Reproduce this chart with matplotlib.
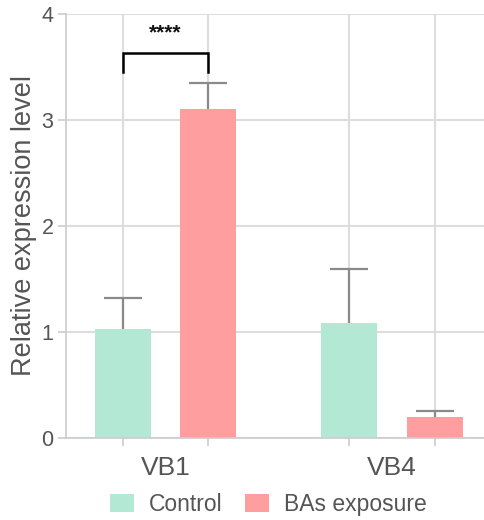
import matplotlib
matplotlib.use("Agg")
import matplotlib.pyplot as plt
import numpy as np

categories = ["VB1", "VB4"]
series_names = ["Control", "BAs exposure"]
control_vals = [1.03, 1.08]
control_err = [0.29, 0.51]
bas_vals = [3.10, 0.20]
bas_err = [0.25, 0.055]
y_ticks = [0, 1, 2, 3, 4]
sig_label = "****"

plt.rcParams['font.family'] = ['Liberation Sans', 'DejaVu Sans']

fig = plt.figure(figsize=(4.85, 5.2), dpi=100)
ax = fig.add_axes([0.136, 0.158, 0.864, 0.815])

x = np.arange(len(categories))
off = 0.189
w = 0.247
colors = ["#B3E8D4", "#FF9E9E"]
ecol = "#8a8a8a"

ax.bar(x - off, control_vals, w, color=colors[0], label=series_names[0], zorder=2)
ax.bar(x + off, bas_vals, w, color=colors[1], label=series_names[1], zorder=2)
for xs, vals, errs in [(x - off, control_vals, control_err), (x + off, bas_vals, bas_err)]:
    vals = np.array(vals); errs = np.array(errs)
    ax.errorbar(xs, vals, yerr=[np.zeros(len(vals)), errs], fmt='none',
                ecolor=ecol, elinewidth=1.6, capsize=0, zorder=3)
    ax.plot(xs, vals + errs, linestyle='none', marker='_', markersize=27,
            mew=1.6, color=ecol, zorder=3)

# significance bracket
x1, x2 = x[0] - off, x[0] + off
ax.plot([x1, x1, x2, x2], [3.45, 3.63, 3.63, 3.45], color="black", lw=1.8, zorder=4,
        solid_joinstyle='miter')
ax.text((x1 + x2) / 2, 3.82, sig_label, ha='center', va='center', fontsize=15,
        color="#111111", fontweight='bold')

ax.set_xlim(-0.44, 1.41)
ax.set_ylim(0, 4)
ax.set_yticks(y_ticks)
ax.set_xticks(np.concatenate([x - off, x + off]))
ax.set_xticklabels([])
ax.tick_params(axis='x', length=6, color="#cccccc", width=1.2)
ax.tick_params(axis='y', length=6, color="#cccccc", width=1.2, labelsize=15.5,
               labelcolor="#555555", pad=3)
for xi, name in zip(x, categories):
    ax.text(xi, -0.285, name, ha='center', va='center', fontsize=19, color="#555555",
            transform=ax.transData)

ax.grid(True, color="#dddddd", lw=1.5, zorder=0)
ax.set_axisbelow(True)
for s in ["top", "right"]:
    ax.spines[s].set_visible(False)
for s in ["left", "bottom"]:
    ax.spines[s].set_color("#cccccc")
    ax.spines[s].set_linewidth(1.2)

ax.set_ylabel("Relative expression level", fontsize=19.5, color="#555555", labelpad=3)

fig.legend(loc='center', bbox_to_anchor=(0.553, 0.030), ncol=2, frameon=False,
           fontsize=16.5, labelcolor="#555555", handlelength=1.05, handleheight=0.78,
           columnspacing=1.0, handletextpad=0.65, borderpad=0)

fig.savefig("out.png", dpi=100)
